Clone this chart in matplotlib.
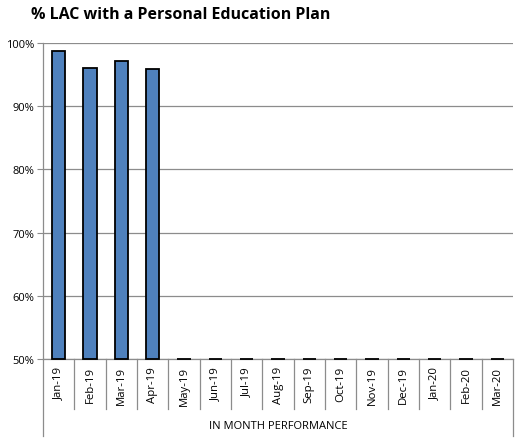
import matplotlib
matplotlib.use("Agg")
import matplotlib.pyplot as plt
import matplotlib.transforms as mtransforms
import numpy as np

categories = ["Jan-19", "Feb-19", "Mar-19", "Apr-19", "May-19", "Jun-19", "Jul-19",
              "Aug-19", "Sep-19", "Oct-19", "Nov-19", "Dec-19", "Jan-20", "Feb-20", "Mar-20"]
values = [98.7, 96.0, 97.2, 95.9, 0, 0, 0, 0, 0, 0, 0, 0, 0, 0, 0]
yticks = [50, 60, 70, 80, 90, 100]
ytick_labels = ["50%", "60%", "70%", "80%", "90%", "100%"]
title = "% LAC with a Personal Education Plan"
xlabel = "IN MONTH PERFORMANCE"

plt.rcParams['font.family'] = ['Open Sans', 'DejaVu Sans']

W, H = 517, 439
fig = plt.figure(figsize=(W/100, H/100), dpi=100)
ax = fig.add_axes([43/W, 1-360/H, (513-43)/W, (360-44)/H])

ymin, ymax = 50, 100
x = np.arange(len(categories))
heights = [max(v - ymin, 0) for v in values]
ax.bar(x, heights, bottom=ymin, width=0.42, color="#4F81BD", edgecolor="black",
       linewidth=1.3, zorder=3, clip_on=False)

ax.set_xlim(-0.5, len(categories)-0.5)
ax.set_ylim(ymin, ymax)
ax.set_yticks(yticks)
ax.set_yticklabels(ytick_labels, fontsize=8)
ax.yaxis.grid(True, color="#8c8c8c", linewidth=0.9, zorder=0)
ax.tick_params(axis='y', length=4, color="#8c8c8c", pad=2)

ax.set_xticks(x)
ax.set_xticklabels(categories, rotation=90, fontsize=8.2)
ax.tick_params(axis='x', length=0, pad=5)

for s in ["top", "right"]:
    ax.spines[s].set_visible(False)
for s in ["left", "bottom"]:
    ax.spines[s].set_color("#8c8c8c")
    ax.spines[s].set_linewidth(0.9)

trans = mtransforms.blended_transform_factory(ax.transData, ax.transAxes)
sep_low = -(410-360)/316
out_low = -(437-360)/316
for i in range(len(categories)+1):
    xb = i - 0.5
    low = out_low if i in (0, len(categories)) else sep_low
    ax.plot([xb, xb], [0, low], transform=trans, color="#8c8c8c", linewidth=0.9,
            clip_on=False, zorder=1)

fig.text(278/W, 1-427/H, xlabel, ha="center", va="center", fontsize=8)
fig.text(31/W, 1-15/H, title, ha="left", va="center", fontsize=11.5, fontweight="bold")

fig.savefig("out.png", dpi=100)
